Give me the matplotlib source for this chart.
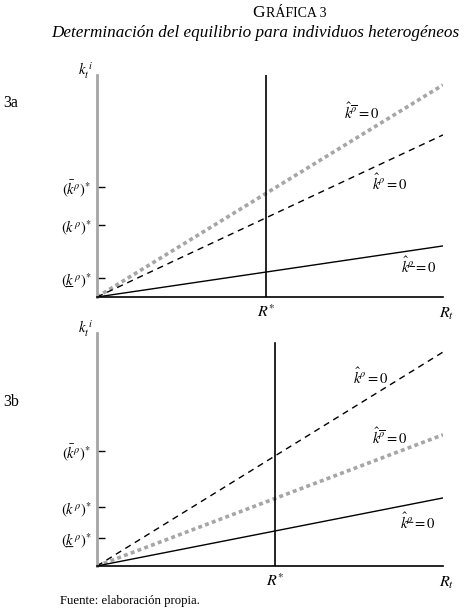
import matplotlib
matplotlib.use("Agg")
import matplotlib.pyplot as plt

plt.rcParams['font.family'] = ['Liberation Serif', 'DejaVu Serif']
plt.rcParams['mathtext.fontset'] = 'stix'

# ---------------- data ----------------
x_end = [0.0, 1.0]
# panel 3a: end heights at x = 1 (origin at 0)
a_kbar = [0.0, 0.955]   # gray dotted
a_k = [0.0, 0.73]       # dashed
a_kund = [0.0, 0.23]    # solid
a_rstar = 0.488
a_ticks = [0.495, 0.324, 0.086]
a_vtop = 1.0

# panel 3b
b_kbar = [0.0, 0.563]   # gray dotted
b_k = [0.0, 0.918]      # dashed
b_kund = [0.0, 0.292]   # solid
b_rstar = 0.514
b_ticks = [0.494, 0.253, 0.12]
b_vtop = 0.957

tick_labels = [r'$(\bar{k}^{\rho})^{*}$', r'$(k^{\rho})^{*}$', r'$(k^{\rho})^{*}$']
hat_bar = r'$\hat{k}^{\overline{\rho}}=0$'
hat_k = r'$\hat{k}^{\rho}=0$'
hat_under = r'$\hat{k}^{\rho}=0$'

fig = plt.figure(figsize=(4.65, 6.14), dpi=100)

GRAY = '#a6a6a6'


def underline(artist, x0, x1, y):
    fig.axes[-1].annotate('', xy=(x1, y), xycoords=artist, xytext=(x0, y), textcoords=artist,
                          arrowprops=dict(arrowstyle='-', lw=0.7, color='black',
                                          shrinkA=0, shrinkB=0), annotation_clip=False)


def panel(rect, kbar, k, kund, rstar, ticks, vtop, ytop, labels_pos):
    ax = fig.add_axes(rect)
    ax.set_xlim(0, 1.0)
    ax.set_ylim(0, ytop)
    ax.plot(x_end, kbar, color=GRAY, lw=2.6, dashes=(1.1, 0.9), solid_capstyle='butt')
    ax.plot(x_end, k, color='black', lw=1.0, dashes=(4.5, 3.5))
    ax.plot(x_end, kund, color='black', lw=1.0)
    ax.plot([rstar, rstar], [0, vtop], color='black', lw=1.2)
    for s in ['top', 'right']:
        ax.spines[s].set_visible(False)
    ax.spines['left'].set_color(GRAY)
    ax.spines['left'].set_linewidth(2.0)
    ax.spines['bottom'].set_color('black')
    ax.spines['bottom'].set_linewidth(1.2)
    ax.set_yticks(ticks)
    tl = ax.set_yticklabels(tick_labels, fontsize=10.5)
    ax.tick_params(axis='y', direction='in', length=6, width=1, color='black', pad=4)
    ax.set_xticks([rstar])
    ax.set_xticklabels([r'$R^{*}$'], fontsize=11.5)
    ax.tick_params(axis='x', length=0, pad=5)
    ax.text(-0.01, 1.02, r'$k_t^{\;i}$', transform=ax.transAxes, ha='right', va='center', fontsize=10.5)
    ax.text(0.99, -0.04, r'$R_t$', transform=ax.transAxes, ha='left', va='top', fontsize=11.5)
    texts = []
    for (tx, ty, s) in labels_pos:
        texts.append(ax.text(tx, ty, s, transform=ax.transAxes, ha='left', va='center', fontsize=10.5))
    # underline marks for the "lower" variable
    underline(tl[2], 0.17, 0.40, 0.17)
    return ax, texts


ax1, t1s = panel([0.2086, 0.5163, 0.744, 0.3616], a_kbar, a_k, a_kund, a_rstar,
                 a_ticks, a_vtop, 1.0,
                 [(0.715, 0.835, hat_bar), (0.795, 0.515, hat_k), (0.88, 0.14, hat_under)])
underline(t1s[2], 0.23, 0.37, 0.47)
ax2, t2s = panel([0.2086, 0.0782, 0.744, 0.3795], b_kbar, b_k, b_kund, b_rstar,
                 b_ticks, b_vtop, 1.0,
                 [(0.74, 0.81, hat_k), (0.795, 0.555, hat_bar), (0.875, 0.19, hat_under)])
underline(t2s[2], 0.23, 0.37, 0.47)

fig.text(0.006, 0.832, '3a', fontsize=11.5, ha='left', va='center')
fig.text(0.006, 0.345, '3b', fontsize=11.5, ha='left', va='center')

# title (small caps imitation)
fig.text(0.542, 0.972, 'G', fontsize=12.5, ha='left', va='baseline')
fig.text(0.5725, 0.972, 'RÁFICA 3', fontsize=10, ha='left', va='baseline')
fig.text(0.548, 0.947, 'Determinación del equilibrio para individuos heterogéneos',
         fontsize=12.3, style='italic', ha='center', va='center')
fig.text(0.13, 0.021, 'Fuente: elaboración propia.', fontsize=9.2, ha='left', va='center')

fig.savefig('out.png', dpi=100)
